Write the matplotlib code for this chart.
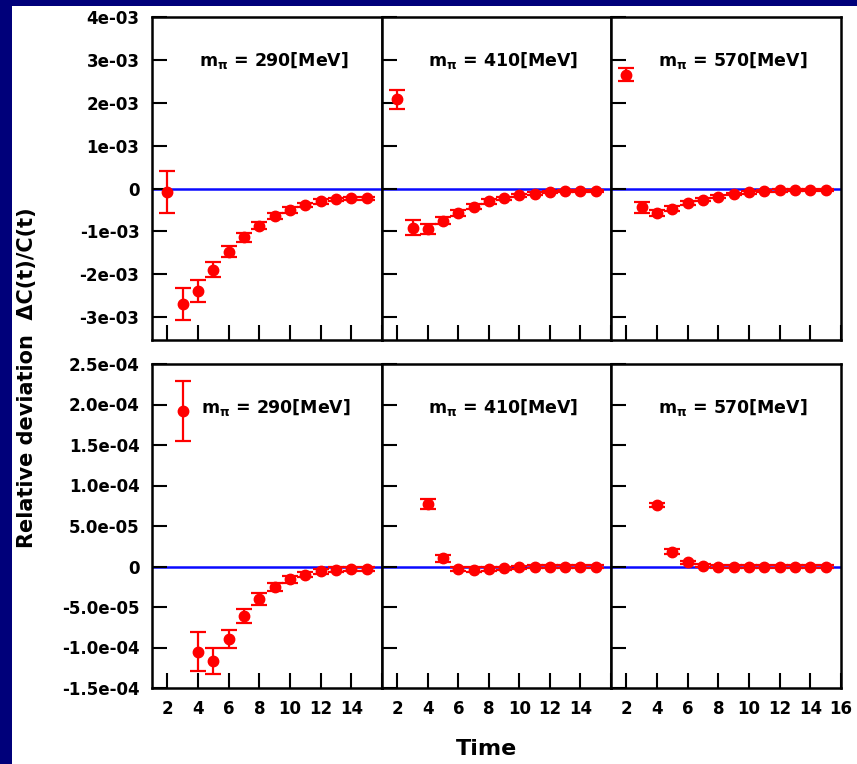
import matplotlib
matplotlib.use("Agg")
import matplotlib.pyplot as plt
import matplotlib.patches as patches
import numpy as np

# time slices for each panel
t_top = [2, 3, 4, 5, 6, 7, 8, 9, 10, 11, 12, 13, 14, 15]
t_bl = [3, 4, 5, 6, 7, 8, 9, 10, 11, 12, 13, 14, 15]
t_bm = [4, 5, 6, 7, 8, 9, 10, 11, 12, 13, 14, 15]
t_br = [4, 5, 6, 7, 8, 9, 10, 11, 12, 13, 14, 15]

# top row, values in units of 1e-3
top_left = [-0.08, -2.69, -2.39, -1.89, -1.47, -1.14, -0.87, -0.65, -0.50, -0.38, -0.30, -0.25, -0.23, -0.23]
top_left_err = [0.49, 0.37, 0.25, 0.17, 0.13, 0.10, 0.08, 0.07, 0.06, 0.05, 0.05, 0.04, 0.04, 0.04]
top_mid = [2.08, -0.91, -0.95, -0.75, -0.58, -0.42, -0.30, -0.23, -0.16, -0.12, -0.08, -0.06, -0.06, -0.06]
top_mid_err = [0.22, 0.17, 0.12, 0.08, 0.07, 0.06, 0.05, 0.04, 0.04, 0.03, 0.03, 0.03, 0.03, 0.03]
top_right = [2.65, -0.44, -0.58, -0.47, -0.34, -0.26, -0.19, -0.13, -0.09, -0.06, -0.04, -0.03, -0.03, -0.03]
top_right_err = [0.15, 0.12, 0.07, 0.06, 0.05, 0.04, 0.04, 0.03, 0.03, 0.03, 0.03, 0.03, 0.03, 0.03]

# bottom row, values in units of 1e-4
bot_left = [1.92, -1.05, -1.17, -0.90, -0.61, -0.40, -0.25, -0.16, -0.10, -0.06, -0.04, -0.03, -0.03]
bot_left_err = [0.37, 0.24, 0.16, 0.11, 0.09, 0.07, 0.05, 0.04, 0.03, 0.03, 0.03, 0.03, 0.03]
bot_mid = [0.77, 0.10, -0.03, -0.04, -0.03, -0.02, -0.01, 0.0, 0.0, 0.0, 0.0, 0.0]
bot_mid_err = [0.06, 0.04, 0.03, 0.03, 0.02, 0.02, 0.02, 0.02, 0.02, 0.02, 0.02, 0.02]
bot_right = [0.76, 0.18, 0.05, 0.01, 0.0, 0.0, 0.0, 0.0, 0.0, 0.0, 0.0, 0.0]
bot_right_err = [0.03, 0.03, 0.02, 0.02, 0.02, 0.02, 0.02, 0.02, 0.02, 0.02, 0.02, 0.02]

masses = ["290", "410", "570"]
x_ticks = [2, 4, 6, 8, 10, 12, 14, 16]
top_yticks = [-3, -2, -1, 0, 1, 2, 3, 4]
bot_yticks = [-1.5, -1.0, -0.5, 0, 0.5, 1.0, 1.5, 2.0, 2.5]

W, H = 857, 764
fig = plt.figure(figsize=(W / 100, H / 100), dpi=100, facecolor="#00007a")
# white slide area, navy strip left and top
fig.patches.append(patches.Rectangle((12 / W, 0), 1, 1 - 6 / H, transform=fig.transFigure,
                                     facecolor="white", edgecolor="none", zorder=-10))

cols = [152, 382, 611, 841]
rows = [(17, 340), (364, 688)]

panels = [
    [(t_top, top_left, top_left_err), (t_top, top_mid, top_mid_err), (t_top, top_right, top_right_err)],
    [(t_bl, bot_left, bot_left_err), (t_bm, bot_mid, bot_mid_err), (t_br, bot_right, bot_right_err)],
]


def fmt_top(v):
    return "0" if v == 0 else f"{v * 1e-3:.0e}"


def fmt_bot(v):
    return "0" if v == 0 else f"{v * 1e-4:.1e}"


for r, (y0, y1) in enumerate(rows):
    for c in range(3):
        x0, x1 = cols[c], cols[c + 1]
        ax = fig.add_axes([x0 / W, 1 - y1 / H, (x1 - x0) / W, (y1 - y0) / H])
        t, v, e = panels[r][c]
        ax.axhline(0, color="#0a0aff", lw=1.8, zorder=1)
        ax.errorbar(t, v, yerr=e, fmt="o", color="red", ms=7.5, elinewidth=1.6,
                    capsize=5.5, capthick=1.6, zorder=3)
        ax.set_xlim(1, 16)
        ax.set_xticks(x_ticks)
        if r == 0:
            ax.set_ylim(-3.53, 4.0)
            ax.set_yticks(top_yticks)
            ax.set_xticklabels([])
            if c == 0:
                ax.set_yticklabels([fmt_top(v) for v in top_yticks])
            else:
                ax.set_yticklabels([])
        else:
            ax.set_ylim(-1.5, 2.5)
            ax.set_yticks(bot_yticks)
            labels = [str(x) for x in x_ticks]
            if c < 2:
                labels[-1] = ""
            ax.set_xticklabels(labels)
            if c == 0:
                ax.set_yticklabels([fmt_bot(v) for v in bot_yticks])
            else:
                ax.set_yticklabels([])
        ax.tick_params(direction="in", length=11, width=1.5, pad=9,
                       labelsize=12, top=False, right=False)
        for lab in ax.get_xticklabels() + ax.get_yticklabels():
            lab.set_fontweight("bold")
        for sp in ax.spines.values():
            sp.set_linewidth(1.8)
        tx = 0.54 if (r == 1 and c == 0) else 0.53
        ax.text(tx, 0.865, f"$\\mathbf{{m_\\pi}}$ = {masses[c]}[MeV]", transform=ax.transAxes,
                ha="center", va="center", fontsize=12.5, fontweight="bold")

fig.text(27 / W, 1 - 378 / H, "Relative deviation  ΔC(t)/C(t)", rotation=90,
         ha="center", va="center", fontsize=15, fontweight="bold")
fig.text(487 / W, 1 - 749 / H, "Time", ha="center", va="center",
         fontsize=16, fontweight="bold")

fig.savefig("out.png", dpi=100, facecolor=fig.get_facecolor())
